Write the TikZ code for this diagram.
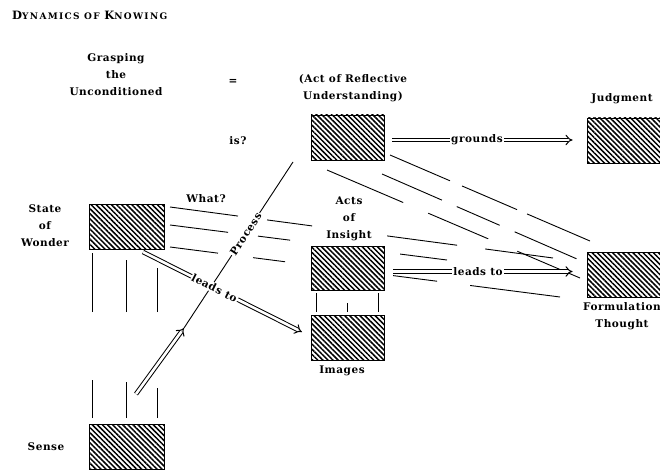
\documentclass[tikz,border=0pt]{standalone}
\usepackage{fontspec}
\setmainfont{DejaVu Serif}[LetterSpace=5]
\newfontfamily\titlefont{DejaVu Serif}[LetterSpace=15]
\usetikzlibrary{patterns.meta,arrows.meta}
\begin{document}
\begin{tikzpicture}[x=1pt,y=-1pt,
  hbox/.style={draw=black,line width=0.8pt,fill=white,minimum width=75pt,minimum height=45pt,inner sep=0pt,
    postaction={pattern={Lines[angle=-45,distance=3.6pt,line width=1.5pt]}}},
  lbl/.style={font=\bfseries\fontsize{10.5}{17}\selectfont,align=center,inner sep=1pt},
  dbl/.style={double,double distance=2.6pt,line width=1pt,-{Implies}},
  ln/.style={line width=0.9pt}]
\useasboundingbox (0,0) rectangle (660,470);
\clip (0,0) rectangle (660,470);

% boxes
\node[hbox,minimum width=73pt] (refl) at (347.5,137.5) {};
\node[hbox] (judg) at (624.5,140.5) {};
\node[hbox] (wonder) at (126.5,227) {};
\node[hbox,minimum width=73pt,minimum height=44pt] (acts) at (347.5,268) {};
\node[hbox,minimum width=73pt] (images) at (347.5,337.5) {};
\node[hbox] (form) at (624.5,274.5) {};
\node[hbox] (sense) at (126.5,447) {};

% free ends
\coordinate (w1a) at (170,207); \coordinate (w1b) at (553,258);
\coordinate (w2a) at (170,225); \coordinate (w2b) at (447,260);
\coordinate (w3a) at (170,247); \coordinate (w3b) at (560,297);
\coordinate (ra1) at (390,155); \coordinate (ra2) at (590,241);
\coordinate (rb1) at (382,174); \coordinate (rb2) at (577,259);
\coordinate (rc1) at (327,170); \coordinate (rc2) at (580,278);
\coordinate (sarr) at (136,394); \coordinate (ptip) at (184,328);
\coordinate (ptop) at (293,162);
\coordinate (wl) at (143,252); \coordinate (il) at (302,332);

% long dashed lines
\draw[ln,dash pattern=on 68.6pt off 29.3pt on 45.4pt off 75.7pt on 70.6pt off 28.3pt on 68.6pt off 50pt] (w1a) -- (w1b);
\draw[ln,dash pattern=on 58.5pt off 30.2pt on 32.3pt off 110.9pt on 47.4pt off 50pt] (w2a) -- (w2b);
\draw[ln,dash pattern=on 48.4pt off 35.3pt on 32.3pt off 108.9pt on 44.4pt off 33.3pt on 90.7pt off 50pt] (w3a) -- (w3b);
\draw[ln,dash pattern=on 65.3pt off 13.1pt on 59.9pt off 10.9pt on 68.6pt off 50pt] (ra1) -- (ra2);
\draw[ln,dash pattern=on 65.3pt off 16.3pt on 46.8pt off 16.3pt on 67.5pt off 50pt] (rb1) -- (rb2);
\draw[ln,dash pattern=on 82.8pt off 27.2pt on 65.3pt off 31.6pt on 68.6pt off 50pt] (rc1) -- (rc2);

% vertical lines sense -- wonder
\draw[ln,dash pattern=on 38pt off 68pt on 59pt off 20pt] ([xshift=4pt,yshift=6pt]sense.north west) -- ([xshift=4pt,yshift=-3pt]wonder.south west);
\draw[ln,dash pattern=on 36pt off 70pt on 52pt off 20pt] ([yshift=6pt]sense.north) -- ([yshift=-10pt]wonder.south);
\draw[ln,dash pattern=on 30pt off 76pt on 44pt off 30pt] ([xshift=-7pt,yshift=6pt]sense.north east) -- ([xshift=-7pt,yshift=-18pt]wonder.south east);

% short lines acts -- images
\draw[ln] ([xshift=6pt,yshift=-3pt]acts.south west) -- ([xshift=6pt,yshift=3pt]images.north west);
\draw[ln] ([yshift=-13pt]acts.south) -- ([yshift=3pt]images.north);
\draw[ln] ([xshift=-6pt,yshift=-3pt]acts.south east) -- ([xshift=-6pt,yshift=3pt]images.north east);

% process line and arrows
\draw[ln] (ptip) -- node[lbl,sloped,pos=0.566,fill=white] {Process} (ptop);
\draw[dbl] (sarr) -- (ptip);
\draw[dbl] (wl) -- node[lbl,sloped,pos=0.45,fill=white] {leads to} (il);
\draw[dbl,shorten <=8pt,shorten >=14pt] ([yshift=-2.5pt]refl.east) -- node[lbl,pos=0.458,fill=white] {grounds} ([yshift=-2.5pt]refl.east -| judg.west);
\draw[dbl,shorten <=9pt,shorten >=14pt] ([yshift=-3.5pt]acts.east) -- node[lbl,pos=0.463,fill=white] {leads to} ([yshift=-3.5pt]acts.east -| form.west);

% texts
\node[anchor=west,inner sep=0pt] (title) at (12,15) {\titlefont\bfseries\fontsize{11.5}{12}\selectfont D\fontsize{9}{12}\selectfont YNAMICS OF \fontsize{11.5}{12}\selectfont K\fontsize{9}{12}\selectfont NOWING};
\node[lbl] (grasp) at (116,75) {Grasping\\the\\Unconditioned};
\node[lbl] (eq) at (233,82) {=};
\node[lbl] (actrefl) at (353,88) {(Act of Reflective\\Understanding)};
\node[lbl] (is) at (238,141) {is?};
\node[lbl] (judgt) at (622,99) {Judgment};
\node[lbl] (state) at (45,226) {State\\of\\Wonder};
\node[lbl] (what) at (206,199) {What?};
\node[lbl] (actsi) at (349,219) {Acts\\of\\Insight};
\node[lbl] (imgt) at (342,371) {Images};
\node[lbl] (formt) at (622,316) {Formulation\\Thought};
\node[lbl] (senset) at (46,447) {Sense};
\end{tikzpicture}
\end{document}
